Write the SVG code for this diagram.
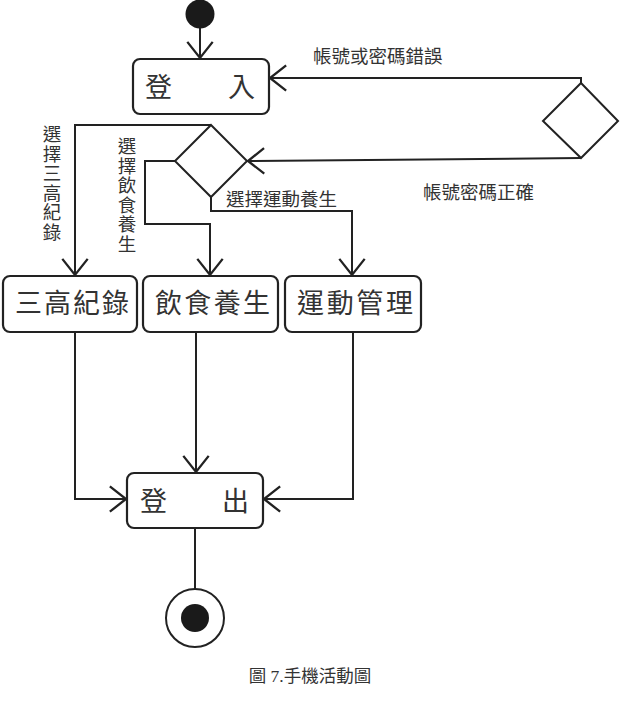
<svg xmlns="http://www.w3.org/2000/svg" width="621" height="705" viewBox="0 0 621 705">
<style>
.ln{fill:none;stroke:#222;stroke-width:2;stroke-linejoin:miter}
.bx{fill:#fff;stroke:#222;stroke-width:2.2}
.dm{fill:#fff;stroke:#222;stroke-width:2}
.t{font-family:"Noto Sans CJK TC","Noto Sans CJK SC",sans-serif;fill:#333}
.big{font-size:27px}
.lb{font-size:18.5px}
.cap{font-family:"Liberation Serif","Noto Sans CJK TC",serif;font-size:17.5px;fill:#333}
</style>
<defs>
<marker id="arr" markerUnits="userSpaceOnUse" markerWidth="30" markerHeight="30" viewBox="-16 -13 18 26" refX="0" refY="0" orient="auto">
<path d="M-14,-11 L0,0 L-14,11" fill="none" stroke="#222" stroke-width="2"/>
</marker>
</defs>
<g id="connectors">
<path class="ln" d="M200,28 V58" marker-end="url(#arr)"/>
<path class="ln" d="M581,83 V78 H270" marker-end="url(#arr)"/>
<path class="ln" d="M581,158 L248,161" marker-end="url(#arr)"/>
<path class="ln" d="M211,125 H75 V275" marker-end="url(#arr)"/>
<path class="ln" d="M175,161 H145 V224 H210 V275" marker-end="url(#arr)"/>
<path class="ln" d="M211,197 V211 H352 V275" marker-end="url(#arr)"/>
<path class="ln" d="M75,332 V499 H126" marker-end="url(#arr)"/>
<path class="ln" d="M196,332 V472" marker-end="url(#arr)"/>
<path class="ln" d="M353,332 V499 H264" marker-end="url(#arr)"/>
<path class="ln" d="M195,528 V589"/>
</g>
<g id="start"><circle cx="200" cy="14" r="14.5" fill="#1a1a1a"/></g>
<g id="login">
<rect class="bx" x="133" y="59" width="136" height="55" rx="7"/>
<text class="t big" x="145" y="97">登</text>
<text class="t big" x="228" y="97">入</text>
</g>
<g id="check">
<polygon class="dm" points="581,83 618,121 581,158 543,121"/>
</g>
<g id="choice">
<polygon class="dm" points="211,125 247,161 211,197 175,161"/>
</g>
<g id="record">
<rect class="bx" x="3" y="276" width="134" height="56" rx="7"/>
<text class="t big" x="15" y="313" textLength="114">三高紀錄</text>
</g>
<g id="diet">
<rect class="bx" x="143" y="276" width="135" height="56" rx="7"/>
<text class="t big" x="155" y="313" textLength="115">飲食養生</text>
</g>
<g id="exercise">
<rect class="bx" x="285" y="276" width="136" height="56" rx="7"/>
<text class="t big" x="297" y="313" textLength="116">運動管理</text>
</g>
<g id="logout">
<rect class="bx" x="127" y="473" width="136" height="55" rx="7"/>
<text class="t big" x="140" y="511">登</text>
<text class="t big" x="222" y="511">出</text>
</g>
<g id="end">
<circle cx="195" cy="618" r="29" fill="#fff" stroke="#222" stroke-width="2"/>
<circle cx="195" cy="618" r="14" fill="#1a1a1a"/>
</g>
<g id="labels">
<text class="t lb" x="313" y="63">帳號或密碼錯誤</text>
<text class="t lb" x="423" y="199">帳號密碼正確</text>
<text class="t lb" x="226" y="206">選擇運動養生</text>
<text class="t lb" text-anchor="middle"><tspan x="52" y="141">選</tspan><tspan x="52" y="160.5">擇</tspan><tspan x="52" y="180">三</tspan><tspan x="52" y="199.5">高</tspan><tspan x="52" y="219">紀</tspan><tspan x="52" y="238.5">錄</tspan></text>
<text class="t lb" text-anchor="middle"><tspan x="127" y="153">選</tspan><tspan x="127" y="172.5">擇</tspan><tspan x="127" y="192">飲</tspan><tspan x="127" y="211.5">食</tspan><tspan x="127" y="231">養</tspan><tspan x="127" y="250.5">生</tspan></text>
</g>
<text class="cap" x="310" y="682" text-anchor="middle">圖 7.手機活動圖</text>
</svg>
